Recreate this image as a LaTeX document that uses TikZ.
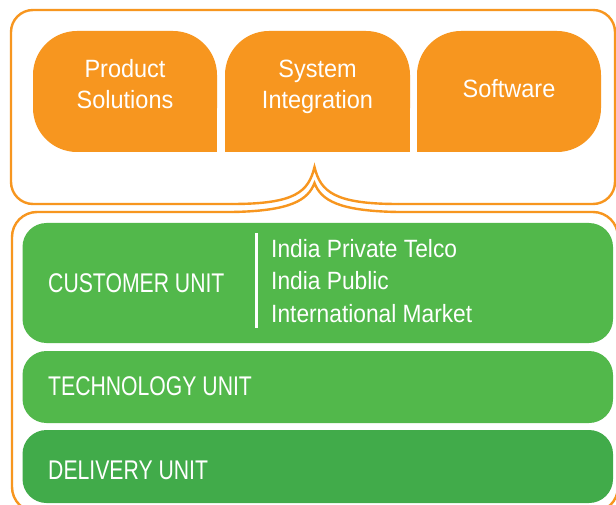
\documentclass[tikz,border=0pt]{standalone}
\usepackage{fontspec}
\setmainfont{Liberation Sans}
\newfontfamily\topfont[FakeStretch=0.94]{Liberation Sans}
\newfontfamily\unitfont[FakeStretch=0.785]{Liberation Sans}
\newfontfamily\listfont[FakeStretch=0.91]{Liberation Sans}
\definecolor{brandorange}{HTML}{F7961F}
\definecolor{lightgreen}{HTML}{52B84B}
\definecolor{darkgreen}{HTML}{41AB4A}
\tikzset{
  frameline/.style={draw=brandorange, line width=2.4pt},
  orangebox/.style={fill=brandorange},
  toptext/.style={anchor=base, inner sep=0pt, text=white, font=\topfont\fontsize{25}{31}\selectfont},
  unittext/.style={anchor=base west, inner sep=0pt, text=white, font=\unitfont\fontsize{27}{32}\selectfont},
  listtext/.style={anchor=base west, inner sep=0pt, text=white, font=\listfont\fontsize{25}{32}\selectfont},
}
\begin{document}
\begin{tikzpicture}[x=1pt,y=-1pt]
\useasboundingbox (0,0) rectangle (616,505);
\fill[white] (0,0) rectangle (616,505);

% top frame
\draw[frameline, rounded corners=22pt] (232,204) -- (11,204) -- (11,10) -- (615,10) -- (615,204) -- (398,204);
\draw[frameline] (398,204) .. controls (335,204) and (320.5,192) .. (314.5,167) .. controls (308.5,192) and (295,204) .. (232,204);

% bottom frame
\draw[frameline, rounded corners=25pt] (232,212) -- (12,212) -- (12,512) -- (618,512) -- (618,212) -- (398,212);
\draw[frameline] (398,212) .. controls (338,211) and (321,200) .. (314.5,183) .. controls (308,200) and (291,211) .. (232,212);

% orange boxes
\fill[orangebox, rounded corners=44pt] (33,31) rectangle (217,152);
\fill[orangebox] (160,100) rectangle (217,152);
\fill[orangebox, rounded corners=44pt] (225,31) rectangle (410,152);
\fill[orangebox] (225,100) rectangle (410,152);
\fill[orangebox, rounded corners=44pt] (417,31) rectangle (601,152);
\fill[orangebox] (417,100) rectangle (470,152);

\node[toptext] (prod) at (125,77.7) {Product};
\node[toptext] (sol) at (125,109) {Solutions};
\node[toptext] (sys) at (317.5,77.7) {System};
\node[toptext] (integ) at (317.5,109) {Integration};
\node[toptext] (soft) at (509,98) {Software};

% green boxes
\fill[lightgreen, rounded corners=24pt] (22.5,223) rectangle (613,343);
\fill[lightgreen, rounded corners=24pt] (22.5,351) rectangle (613,423);
\fill[darkgreen, rounded corners=24pt] (22.5,430) rectangle (613,503);

\node[unittext] (cust) at (48,292) {CUSTOMER UNIT};
\draw[white, line width=3pt] (256.5,233) -- (256.5,328);
\node[listtext] (l1) at (271,258) {India Private Telco};
\node[listtext] (l2) at (271,290) {India Public};
\node[listtext] (l3) at (271,322) {International Market};

\node[unittext] (tech) at (48,395) {TECHNOLOGY UNIT};
\node[unittext] (deliv) at (48,479) {DELIVERY UNIT};
\end{tikzpicture}
\end{document}
